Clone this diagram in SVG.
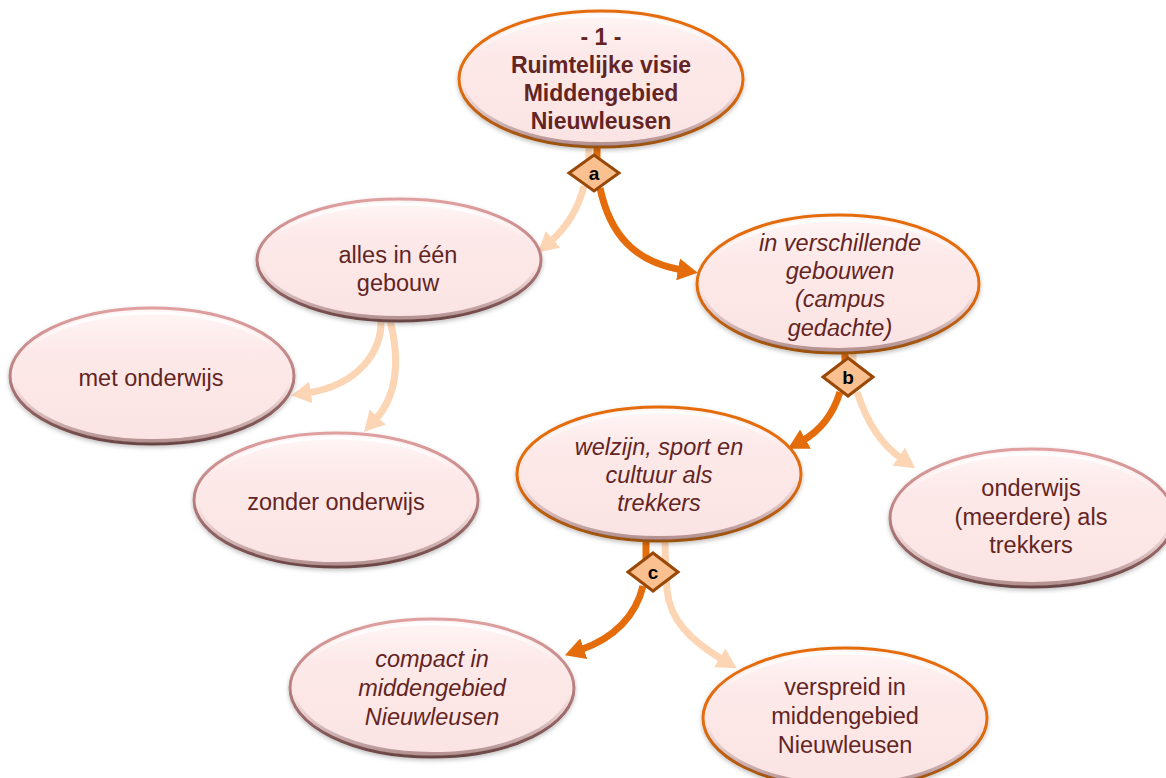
<svg xmlns="http://www.w3.org/2000/svg" width="1166" height="778" viewBox="0 0 1166 778">
<defs>
<linearGradient id="fillG" x1="0" y1="0" x2="0" y2="1">
<stop offset="0" stop-color="#FFF6F6"/><stop offset="0.3" stop-color="#FDE9E9"/><stop offset="1" stop-color="#FBE3E3"/>
</linearGradient>
<linearGradient id="strokeO" x1="0" y1="0" x2="0" y2="1">
<stop offset="0" stop-color="#E46C0A"/><stop offset="0.55" stop-color="#E46C0A"/><stop offset="1" stop-color="#9A520E"/>
</linearGradient>
<linearGradient id="strokeR" x1="0" y1="0" x2="0" y2="1">
<stop offset="0" stop-color="#E0A0A0"/><stop offset="0.5" stop-color="#B98080"/><stop offset="1" stop-color="#6A4545"/>
</linearGradient>
<linearGradient id="hl" x1="0" y1="0" x2="0" y2="1">
<stop offset="0" stop-color="#FFFFFF" stop-opacity="1"/><stop offset="0.3" stop-color="#FFFFFF" stop-opacity="0"/>
</linearGradient>
<linearGradient id="sh" x1="0" y1="0" x2="0" y2="1">
<stop offset="0.55" stop-color="#7A5050" stop-opacity="0"/><stop offset="1" stop-color="#7A5050" stop-opacity="0.55"/>
</linearGradient>
<filter id="ds" x="-10%" y="-10%" width="120%" height="130%">
<feDropShadow dx="0" dy="2" stdDeviation="2" flood-color="#000" flood-opacity="0.25"/>
</filter>
<marker id="arrD" viewBox="0 0 20 22" refX="4" refY="11" markerWidth="20" markerHeight="22" markerUnits="userSpaceOnUse" orient="auto">
<path d="M0,0 L20,11 L0,22 Z" fill="#E46C0A"/>
</marker>
<marker id="arrL" viewBox="0 0 20 22" refX="4" refY="11" markerWidth="20" markerHeight="22" markerUnits="userSpaceOnUse" orient="auto">
<path d="M0,0 L20,11 L0,22 Z" fill="#FCD5B5"/>
</marker>
</defs>
<style>
.body{fill:url(#fillG);stroke-width:3;filter:url(#ds)}
.o .body{stroke:url(#strokeO)}
.r .body{stroke:url(#strokeR)}
.hl{fill:none;stroke:url(#hl);stroke-width:3}
.sh{fill:none;stroke:url(#sh);stroke-width:4}
.t{font-family:"Liberation Sans",Arial,sans-serif;font-size:23.5px;fill:#632523;text-anchor:middle}
.i{font-style:italic}
.b{font-weight:bold;font-size:23px}
.cd{fill:none;stroke:#E46C0A;stroke-width:7}
.cl{fill:none;stroke:#FCD5B5;stroke-width:7}
.dm{fill:#FAC090;stroke:#984807;stroke-width:3;stroke-linejoin:miter}
.dt{font-family:"Liberation Sans",Arial,sans-serif;font-size:19px;font-weight:bold;fill:#000;text-anchor:middle}
</style>
<rect width="1166" height="778" fill="#FFFFFF"/>

<g id="connectors">
<path class="cl" d="M589,145 L589,168"/>
<path class="cd" d="M597,145 L597,168"/>
<path class="cl" d="M584,186 C578,210 566,228 550,242" marker-end="url(#arrL)"/>
<path class="cd" d="M600,188 C610,235 635,262 682,270" marker-end="url(#arrD)"/>
<path class="cl" d="M381,320 C382,350 360,385 307,393" marker-end="url(#arrL)"/>
<path class="cl" d="M390,320 C400,360 398,395 375,420" marker-end="url(#arrL)"/>
<path class="cd" d="M845,350 L845,372"/>
<path class="cl" d="M853,350 L853,372"/>
<path class="cd" d="M840,392 C832,418 818,432 802,441" marker-end="url(#arrD)"/>
<path class="cl" d="M857,392 C868,425 882,445 902,459" marker-end="url(#arrL)"/>
<path class="cd" d="M646,538 L646,566"/>
<path class="cl" d="M665,538 C665,560 666,575 667,590 C670,620 690,640 723,660" marker-end="url(#arrL)"/>
<path class="cd" d="M643,586 C636,615 615,638 580,650" marker-end="url(#arrD)"/>
</g>

<g id="node-visie" class="o">
<ellipse class="body" cx="601" cy="79" rx="142" ry="68"/>
<ellipse class="hl" cx="601" cy="79" rx="137" ry="63"/>
<ellipse class="sh" cx="601" cy="79" rx="139" ry="65"/>
<text class="t b" x="601" y="45">- 1 -</text>
<text class="t b" x="601" y="73">Ruimtelijke visie</text>
<text class="t b" x="601" y="101">Middengebied</text>
<text class="t b" x="601" y="129">Nieuwleusen</text>
</g>

<g id="node-alles" class="r">
<ellipse class="body" cx="399" cy="260" rx="142" ry="61"/>
<ellipse class="hl" cx="399" cy="260" rx="137" ry="56"/>
<ellipse class="sh" cx="399" cy="260" rx="139" ry="58"/>
<text class="t" x="398" y="263">alles in één</text>
<text class="t" x="398" y="291">gebouw</text>
</g>

<g id="node-verschillende" class="o">
<ellipse class="body" cx="838" cy="284" rx="141" ry="69"/>
<ellipse class="hl" cx="838" cy="284" rx="136" ry="64"/>
<ellipse class="sh" cx="838" cy="284" rx="138" ry="66"/>
<text class="t i" x="840" y="251">in verschillende</text>
<text class="t i" x="840" y="279">gebouwen</text>
<text class="t i" x="840" y="307">(campus</text>
<text class="t i" x="840" y="336">gedachte)</text>
</g>

<g id="node-met" class="r">
<ellipse class="body" cx="152" cy="376" rx="142" ry="68"/>
<ellipse class="hl" cx="152" cy="376" rx="137" ry="63"/>
<ellipse class="sh" cx="152" cy="376" rx="139" ry="65"/>
<text class="t" x="151" y="386">met onderwijs</text>
</g>

<g id="node-zonder" class="r">
<ellipse class="body" cx="336" cy="500" rx="142" ry="67"/>
<ellipse class="hl" cx="336" cy="500" rx="137" ry="62"/>
<ellipse class="sh" cx="336" cy="500" rx="139" ry="64"/>
<text class="t" x="336" y="510">zonder onderwijs</text>
</g>

<g id="node-welzijn" class="o">
<ellipse class="body" cx="659" cy="474" rx="142" ry="67"/>
<ellipse class="hl" cx="659" cy="474" rx="137" ry="62"/>
<ellipse class="sh" cx="659" cy="474" rx="139" ry="64"/>
<text class="t i" x="659" y="455">welzijn, sport en</text>
<text class="t i" x="659" y="483">cultuur als</text>
<text class="t i" x="659" y="511">trekkers</text>
</g>

<g id="node-onderwijs" class="r">
<ellipse class="body" cx="1032" cy="518" rx="142" ry="69"/>
<ellipse class="hl" cx="1032" cy="518" rx="137" ry="64"/>
<ellipse class="sh" cx="1032" cy="518" rx="139" ry="66"/>
<text class="t" x="1031" y="496">onderwijs</text>
<text class="t" x="1031" y="525">(meerdere) als</text>
<text class="t" x="1031" y="553">trekkers</text>
</g>

<g id="node-compact" class="r">
<ellipse class="body" cx="432" cy="688" rx="142" ry="69"/>
<ellipse class="hl" cx="432" cy="688" rx="137" ry="64"/>
<ellipse class="sh" cx="432" cy="688" rx="139" ry="66"/>
<text class="t i" x="432" y="667">compact in</text>
<text class="t i" x="432" y="696">middengebied</text>
<text class="t i" x="432" y="725">Nieuwleusen</text>
</g>

<g id="node-verspreid" class="o">
<ellipse class="body" cx="845" cy="718" rx="142" ry="70"/>
<ellipse class="hl" cx="845" cy="718" rx="137" ry="65"/>
<ellipse class="sh" cx="845" cy="718" rx="139" ry="67"/>
<text class="t" x="845" y="695">verspreid in</text>
<text class="t" x="845" y="724">middengebied</text>
<text class="t" x="845" y="753">Nieuwleusen</text>
</g>

<g id="junction-a">
<polygon class="dm" points="569,173 594,155 619,173 594,191"/>
<text class="dt" x="594" y="180">a</text>
</g>
<g id="junction-b">
<polygon class="dm" points="823,377 848,358 873,377 848,396"/>
<text class="dt" x="848" y="384">b</text>
</g>
<g id="junction-c">
<polygon class="dm" points="628,572 653,553 678,572 653,591"/>
<text class="dt" x="653" y="579">c</text>
</g>
</svg>
